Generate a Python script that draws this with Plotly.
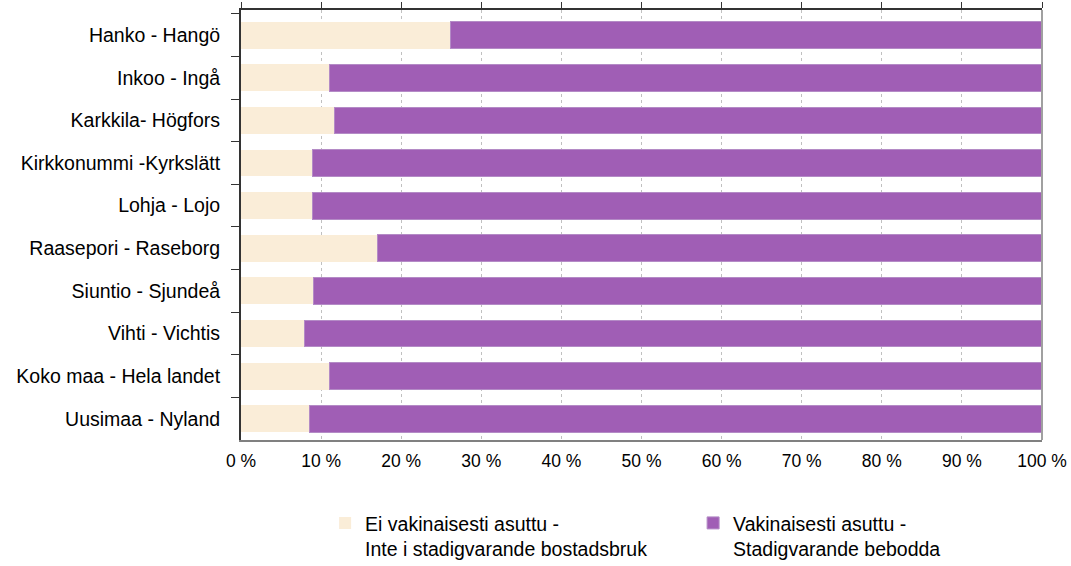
import plotly.graph_objects as go

categories = ["Hanko - Hangö", "Inkoo - Ingå", "Karkkila- Högfors", "Kirkkonummi -Kyrkslätt",
              "Lohja - Lojo", "Raasepori - Raseborg", "Siuntio - Sjundeå", "Vihti - Vichtis",
              "Koko maa - Hela landet", "Uusimaa - Nyland"]
ei_vakinaisesti = [26.2, 11.0, 11.7, 8.9, 8.9, 17.0, 9.0, 7.9, 11.0, 8.5]
vakinaisesti = [round(100 - v, 1) for v in ei_vakinaisesti]
tick_vals = list(range(0, 101, 10))
tick_text = [f"{v} %" for v in tick_vals]
series_names = ["Ei vakinaisesti asuttu -<br>Inte i stadigvarande bostadsbruk",
                "Vakinaisesti asuttu -<br>Stadigvarande bebodda"]

fig = go.Figure()
fig.add_trace(go.Bar(y=categories, x=ei_vakinaisesti, orientation="h", name=series_names[0],
                     marker=dict(color="#FAEDD8", line=dict(width=0))))
fig.add_trace(go.Bar(y=categories, x=vakinaisesti, orientation="h", name=series_names[1],
                     marker=dict(color="#A05EB5", line=dict(width=1, color="#B48BC6"))))
# invisible trace for top axis ticks
fig.add_trace(go.Scatter(x=[0, 100], y=[categories[0], categories[0]], xaxis="x2", mode="markers",
                         marker=dict(opacity=0), showlegend=False, hoverinfo="skip"))

fig.update_layout(
    barmode="stack",
    bargap=0.37,
    width=1071, height=566,
    margin=dict(l=241, r=29, t=10, b=126, autoexpand=False),
    plot_bgcolor="white", paper_bgcolor="white",
    font=dict(family="Liberation Sans, Arial, sans-serif", size=19, color="black"),
    xaxis=dict(range=[0, 100], tickvals=tick_vals, ticktext=tick_text, ticks="",
               showgrid=True, gridcolor="#C0C0C0", griddash="dot", gridwidth=1,
               showline=True, linecolor="#808080", linewidth=2, mirror=False,
               tickfont=dict(size=17.5), zeroline=False, fixedrange=True,
               ticklabelstandoff=4),
    xaxis2=dict(range=[0, 100], overlaying="x", side="top", tickvals=tick_vals, ticks="outside",
                ticklen=6, tickcolor="#333333", showticklabels=False, showgrid=False,
                showline=True, linecolor="#333333", linewidth=2, zeroline=False),
    yaxis=dict(autorange="reversed", ticks="outside", tickson="boundaries", ticklen=8,
               tickcolor="#333333", showline=True, linecolor="#333333", linewidth=2,
               tickfont=dict(size=19.5), ticklabelstandoff=15),
    legend=dict(orientation="h", x=0.105, xanchor="left", y=0.11, yanchor="top",
                yref="container", font=dict(size=19.5), traceorder="normal",
                valign="top", entrywidth=323),
)
fig.add_shape(type="line", xref="paper", yref="paper", x0=1, x1=1, y0=0, y1=1,
              line=dict(color="#A0A0A0", width=2))

fig.write_html("out.html", config={"displayModeBar": False},
               post_script="document.body.style.margin='0';")
